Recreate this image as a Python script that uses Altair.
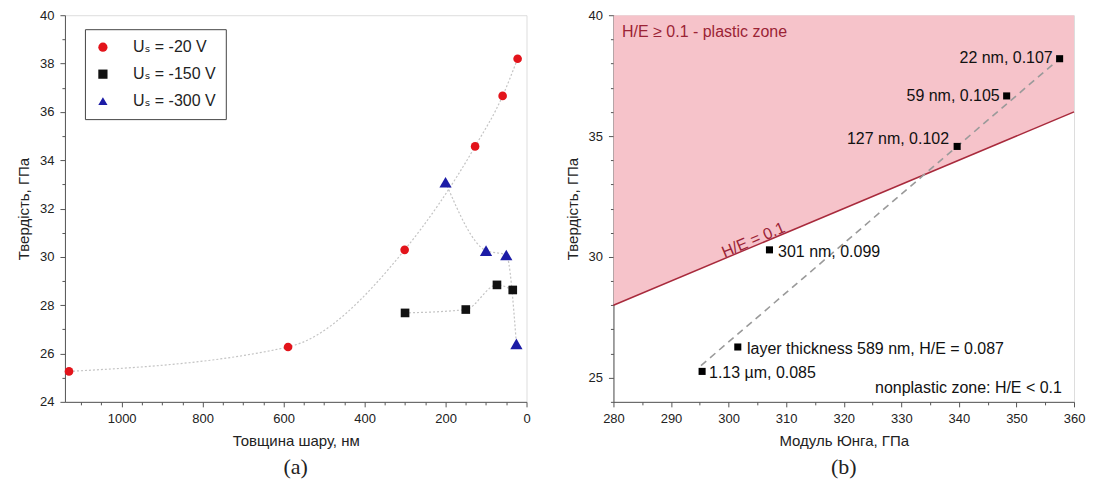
import altair as alt
import pandas as pd

# ---------------- Panel (a): hardness vs layer thickness ----------------
series_labels = ["Uₛ = -20 V", "Uₛ = -150 V", "Uₛ = -300 V"]
series_colors = ["#e3141b", "#111111", "#1c1ca6"]
series_shapes = ["circle", "square", "triangle-up"]

thick_20 = [1130, 589, 301, 127, 59, 22]
hard_20 = [25.26, 26.27, 30.29, 34.57, 36.66, 38.2]
thick_150 = [300, 150, 73, 34]
hard_150 = [27.68, 27.82, 28.84, 28.63]
thick_300 = [200, 100, 50, 25]
hard_300 = [33.09, 30.26, 30.08, 26.4]

# ---------------- Panel (b): hardness vs Young's modulus ----------------
modulus_20 = [295.4, 301.6, 307.1, 339.7, 348.3, 357.5]

crit_E = [280, 360]          # H/E = 0.1 boundary
crit_H = [28.0, 36.0]
crit_top = [40, 40]          # upper edge of the plastic zone
fit_E = [295.2, 357.0]       # dashed trend line
fit_H = [25.5, 38.1]

lab_r_text = ["22 nm, 0.107", "59 nm, 0.105", "127 nm, 0.102"]
lab_r_E = [356.3, 347.1, 338.3]
lab_r_H = [38.24, 36.67, 34.87]
lab_l_text = ["301 nm, 0.099", "layer thickness 589 nm, H/E = 0.087", "1.13 µm, 0.085"]
lab_l_E = [308.6, 303.2, 296.6]
lab_l_H = [30.2, 26.18, 25.18]

FONT = "Liberation Sans, Arial, DejaVu Sans"
SERIF = "Liberation Serif, Times New Roman, serif"

df_a = pd.concat([
    pd.DataFrame({"series": series_labels[0], "t": thick_20, "h": hard_20}),
    pd.DataFrame({"series": series_labels[1], "t": thick_150, "h": hard_150}),
    pd.DataFrame({"series": series_labels[2], "t": thick_300, "h": hard_300}),
], ignore_index=True)

df_b = pd.DataFrame({"E": modulus_20, "H": hard_20})
df_crit = pd.DataFrame({"E": crit_E, "H": crit_H, "top": crit_top})
df_fit = pd.DataFrame({"E": fit_E, "H": fit_H})
df_lr = pd.DataFrame({"E": lab_r_E, "H": lab_r_H, "txt": lab_r_text})
df_ll = pd.DataFrame({"E": lab_l_E, "H": lab_l_H, "txt": lab_l_text})


def mk_axis(title, values, major, fmt="d"):
    return alt.Axis(
        title=title, values=values, format=fmt, grid=False,
        labelExpr=f"datum.value % {major} === 0 ? datum.label : ''",
        tickSize={"condition": {"test": f"datum.value % {major} === 0", "value": 5}, "value": 3},
        labelPadding=6, titlePadding=8, labelFlush=False,
        labelFontSize=13, titleFontSize=15, labelFont=FONT, titleFont=FONT,
        titleFontWeight="normal", domainColor="#555", tickColor="#555",
        labelColor="#222", titleColor="#222",
    )


xa = alt.X("t:Q", scale=alt.Scale(domain=[1140, 0], nice=False),
           axis=mk_axis("Товщина шару, нм", list(range(0, 1101, 50)), 200))
ya = alt.Y("h:Q", scale=alt.Scale(domain=[24, 40], nice=False),
           axis=mk_axis("Твердість, ГПа", list(range(24, 41)), 2))

leg = alt.Legend(title=None, orient="none", legendX=20, legendY=14,
                 strokeColor="#444", fillColor="white", padding=10,
                 labelFontSize=16, labelFont=FONT, labelColor="#222",
                 symbolSize=85, rowPadding=11, labelOffset=22, symbolStrokeWidth=0)

lines_a = alt.Chart(df_a).mark_line(
    color="#c4c4c4", strokeDash=[2, 2], strokeWidth=1.2, interpolate="monotone"
).encode(x=xa, y=ya, detail="series:N")

pts_a = alt.Chart(df_a).mark_point(filled=True, opacity=1).encode(
    x=xa, y=ya,
    color=alt.Color("series:N", scale=alt.Scale(domain=series_labels, range=series_colors), legend=leg),
    shape=alt.Shape("series:N", scale=alt.Scale(domain=series_labels, range=series_shapes), legend=leg),
    size=alt.condition(alt.datum.series == series_labels[2], alt.value(150), alt.value(75)),
)

left = alt.layer(lines_a, pts_a).properties(
    width=462, height=387,
    title=alt.TitleParams("(a)", orient="bottom", font=SERIF, fontSize=22,
                          fontWeight="normal", color="#222", offset=8, anchor="middle"),
)

xb = alt.X("E:Q", scale=alt.Scale(domain=[280, 360], nice=False),
           axis=mk_axis("Модуль Юнга, ГПа", list(range(280, 361, 5)), 10))
yb = alt.Y("H:Q", scale=alt.Scale(domain=[24, 40], nice=False),
           axis=mk_axis("Твердість, ГПа", list(range(24, 41)), 5))

area_b = alt.Chart(df_crit).mark_area(color="#f6c3ca", opacity=1, clip=True).encode(
    x=xb, y=yb, y2="top:Q")
crit_b = alt.Chart(df_crit).mark_line(color="#a82a3c", strokeWidth=1.5).encode(x=xb, y=yb)
fit_b = alt.Chart(df_fit).mark_line(color="#9a9a9a", strokeDash=[7, 5], strokeWidth=1.6).encode(x=xb, y=yb)
pts_b = alt.Chart(df_b).mark_square(size=50, color="#000", opacity=1).encode(x=xb, y=yb)
txt_r = alt.Chart(df_lr).mark_text(align="right", baseline="middle", fontSize=16, font=FONT,
                                   color="#111").encode(x=xb, y=yb, text="txt:N")
txt_l = alt.Chart(df_ll).mark_text(align="left", baseline="middle", fontSize=16, font=FONT,
                                   color="#111").encode(x=xb, y=yb, text="txt:N")

df_zone_p = pd.DataFrame({"E": [281.5], "H": [39.31], "txt": ["H/E ≥ 0.1 - plastic zone"]})
df_zone_n = pd.DataFrame({"E": [357.9], "H": [24.58], "txt": ["nonplastic zone: H/E < 0.1"]})
df_crit_lab = pd.DataFrame({"E": [304.3], "H": [30.7], "txt": ["H/E = 0.1"]})

zone_p = alt.Chart(df_zone_p).mark_text(align="left", baseline="middle", fontSize=16, font=FONT,
                                        color="#9b2335").encode(x=xb, y=yb, text="txt:N")
zone_n = alt.Chart(df_zone_n).mark_text(align="right", baseline="middle", fontSize=16, font=FONT,
                                        color="#111").encode(x=xb, y=yb, text="txt:N")
crit_lab = alt.Chart(df_crit_lab).mark_text(align="center", baseline="middle", fontSize=16, font=FONT,
                                            color="#9b2335", angle=337).encode(x=xb, y=yb, text="txt:N")

right = alt.layer(area_b, crit_b, fit_b, pts_b, txt_r, txt_l, zone_p, zone_n, crit_lab).properties(
    width=461, height=387,
    title=alt.TitleParams("(b)", orient="bottom", font=SERIF, fontSize=22,
                          fontWeight="normal", color="#222", offset=8, anchor="middle"),
)

chart = alt.hconcat(left, right, spacing=33).properties(
    padding={"left": 8, "top": 0, "right": 4, "bottom": 0}
).configure_view(stroke="#555", strokeWidth=1).configure(background="white")

chart.save("out.html", embed_options={"renderer": "svg", "actions": False})
